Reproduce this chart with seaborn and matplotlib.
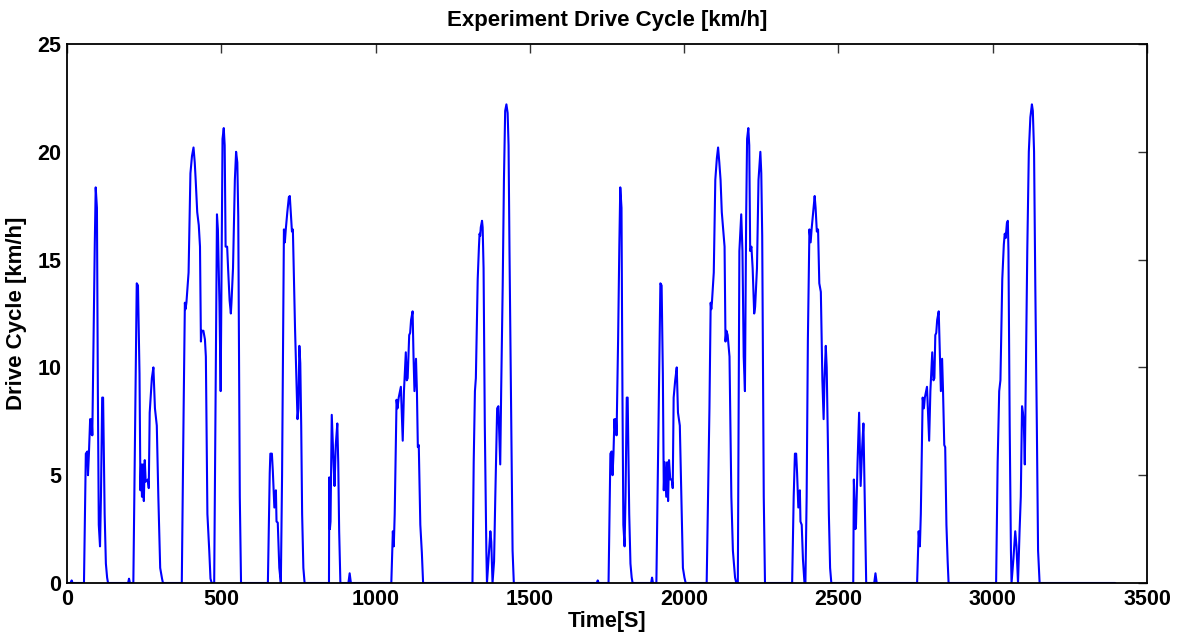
import matplotlib
matplotlib.use("Agg")
import matplotlib.pyplot as plt
import seaborn as sns
import pandas as pd

# ---- data (time in s, speed in km/h) ----
time_s = [
    0, 12, 15, 18, 55, 61, 66, 68, 71, 75, 78, 80, 82, 86, 90, 93, 97, 100, 103, 107,
    110, 114, 117, 122, 126, 130, 133, 198, 201, 204, 215, 226, 230, 235, 238, 240, 243, 246, 249, 252,
    255, 262, 265, 268, 275, 280, 285, 291, 296, 302, 308, 311, 372, 378, 382, 384, 387, 394, 400, 405,
    410, 414, 417, 422, 427, 431, 434, 436, 442, 447, 450, 455, 461, 465, 469, 477, 486, 489, 494, 498,
    504, 508, 511, 514, 519, 522, 527, 531, 533, 538, 544, 548, 552, 555, 560, 564, 651, 657, 659, 664,
    667, 672, 677, 679, 683, 688, 693, 697, 703, 706, 709, 714, 719, 722, 726, 729, 732, 736, 739, 743,
    747, 750, 753, 756, 759, 762, 766, 770, 849, 850, 852, 854, 858, 864, 867, 871, 876, 879, 882, 886,
    912, 916, 920, 1051, 1056, 1059, 1062, 1068, 1071, 1075, 1082, 1088, 1092, 1098, 1101, 1104, 1109, 1112, 1115, 1120,
    1123, 1126, 1131, 1134, 1137, 1140, 1145, 1150, 1154, 1314, 1318, 1322, 1325, 1331, 1335, 1337, 1339, 1341, 1345, 1347,
    1350, 1354, 1359, 1361, 1366, 1372, 1375, 1379, 1384, 1388, 1394, 1398, 1401, 1404, 1407, 1412, 1416, 1420, 1424, 1428,
    1431, 1434, 1440, 1444, 1448, 1717, 1720, 1723, 1755, 1761, 1765, 1768, 1771, 1774, 1777, 1779, 1781, 1786, 1790, 1793,
    1797, 1800, 1803, 1807, 1810, 1814, 1817, 1822, 1826, 1830, 1833, 1893, 1896, 1899, 1910, 1923, 1927, 1931, 1934, 1937,
    1942, 1945, 1948, 1951, 1955, 1960, 1963, 1966, 1971, 1976, 1980, 1986, 1991, 1996, 2001, 2005, 2073, 2082, 2086, 2088,
    2090, 2096, 2101, 2106, 2110, 2114, 2118, 2122, 2127, 2131, 2134, 2137, 2141, 2147, 2153, 2158, 2165, 2169, 2174, 2179,
    2185, 2189, 2193, 2197, 2201, 2204, 2208, 2211, 2214, 2218, 2222, 2227, 2230, 2236, 2241, 2247, 2250, 2253, 2258, 2262,
    2350, 2355, 2359, 2363, 2366, 2370, 2375, 2377, 2381, 2385, 2390, 2393, 2397, 2401, 2406, 2410, 2413, 2418, 2423, 2426,
    2430, 2434, 2438, 2443, 2448, 2452, 2455, 2459, 2462, 2466, 2469, 2473, 2477, 2548, 2550, 2555, 2557, 2562, 2567, 2572,
    2577, 2581, 2585, 2590, 2616, 2620, 2624, 2755, 2760, 2764, 2767, 2773, 2777, 2780, 2787, 2794, 2798, 2804, 2808, 2811,
    2814, 2817, 2820, 2825, 2829, 2832, 2836, 2839, 2843, 2846, 2850, 2854, 2857, 3011, 3016, 3021, 3025, 3031, 3036, 3039,
    3042, 3046, 3049, 3051, 3055, 3059, 3061, 3067, 3073, 3077, 3082, 3087, 3091, 3095, 3098, 3101, 3104, 3108, 3112, 3117,
    3122, 3127, 3130, 3134, 3138, 3143, 3147, 3152, 3397,
]
speed_kmh = [
    0, 0, 0.12, 0, 0, 6.0, 6.1, 5.0, 6.0, 7.6, 6.9, 7.6, 6.85, 11.3, 15.7, 18.35, 17.4, 8.9, 2.7, 1.7,
    4.0, 8.6, 8.6, 3.2, 0.9, 0.25, 0, 0, 0.2, 0, 0, 13.9, 13.8, 9.7, 4.3, 5.5, 4.0, 5.5, 3.8, 5.7,
    4.7, 4.8, 4.4, 7.9, 9.5, 10.0, 8.1, 7.3, 4.0, 0.7, 0.2, 0, 0, 8.1, 13.0, 12.7, 13.0, 14.4, 19.0, 19.8,
    20.2, 19.5, 18.7, 17.2, 16.6, 15.6, 11.2, 11.7, 11.7, 11.3, 10.5, 3.2, 1.5, 0.2, 0, 0, 17.1, 16.4, 13.0, 8.9,
    20.6, 21.1, 20.3, 15.6, 15.6, 14.6, 13.1, 12.5, 13.0, 14.6, 18.7, 20.0, 19.5, 17.0, 4.0, 0, 0, 5.1, 6.0, 6.0,
    5.2, 3.5, 4.3, 2.85, 2.8, 0.7, 0, 5.0, 16.4, 15.8, 16.4, 17.2, 17.9, 17.95, 17.0, 16.3, 16.4, 13.8, 11.8, 9.7,
    7.6, 8.1, 11.0, 10.2, 7.3, 3.2, 0.7, 0, 0, 4.9, 2.5, 2.85, 7.8, 5.5, 4.5, 6.4, 7.4, 5.6, 2.4, 0,
    0, 0.45, 0, 0, 2.4, 1.7, 3.2, 8.5, 8.1, 8.6, 9.1, 6.6, 8.9, 10.7, 9.4, 9.5, 11.5, 11.6, 12.2, 12.6,
    10.5, 8.9, 10.4, 8.9, 6.3, 6.4, 2.7, 1.4, 0, 0, 5.6, 8.9, 9.5, 14.1, 15.6, 16.2, 16.1, 16.5, 16.8, 16.5,
    14.6, 7.3, 1.5, 0, 1.1, 2.4, 1.9, 0, 1.0, 4.0, 8.1, 8.2, 6.8, 5.5, 8.9, 13.8, 18.7, 21.9, 22.2, 21.8,
    20.3, 15.4, 7.3, 1.5, 0, 0, 0.12, 0, 0, 6.0, 6.1, 5.0, 6.0, 7.6, 6.9, 7.6, 6.85, 11.3, 15.7, 18.35,
    17.4, 8.9, 2.7, 1.7, 4.0, 8.6, 8.6, 3.2, 0.9, 0.25, 0, 0, 0.25, 0, 0, 13.9, 13.8, 9.7, 4.3, 5.6,
    4.0, 5.6, 3.8, 5.7, 4.8, 4.8, 4.4, 8.6, 9.4, 10.0, 7.9, 7.3, 4.0, 0.7, 0.25, 0, 0, 8.1, 13.0, 12.7,
    13.0, 14.4, 18.7, 19.7, 20.2, 19.5, 18.7, 17.2, 16.3, 15.6, 11.2, 11.7, 11.5, 10.5, 4.0, 1.5, 0.25, 0, 0, 15.4,
    17.1, 15.4, 10.5, 8.9, 17.0, 20.6, 21.1, 20.3, 15.4, 15.6, 14.6, 12.5, 12.8, 14.6, 18.7, 20.0, 19.0, 16.1, 4.0, 0,
    0, 4.0, 6.0, 6.0, 5.1, 3.5, 4.3, 2.85, 2.7, 1.1, 0, 0, 4.0, 11.3, 16.4, 15.8, 16.4, 17.2, 17.95, 17.4,
    16.3, 16.4, 13.9, 13.5, 9.4, 7.6, 9.5, 11.0, 10.0, 6.4, 3.2, 0.7, 0, 0, 4.8, 2.5, 2.7, 5.6, 7.9, 4.5,
    6.3, 7.4, 4.0, 0, 0, 0.45, 0, 0, 2.4, 1.7, 3.2, 8.6, 8.1, 8.6, 9.1, 6.6, 8.9, 10.7, 9.4, 9.5,
    11.5, 11.6, 12.2, 12.6, 10.5, 8.9, 10.4, 8.9, 6.4, 6.3, 2.7, 1.0, 0, 0, 5.6, 8.9, 9.4, 14.1, 15.7, 16.2,
    16.0, 16.7, 16.8, 15.4, 7.3, 1.5, 0, 1.1, 2.4, 1.7, 0, 2.4, 4.0, 8.2, 7.9, 7.3, 5.5, 10.5, 15.4, 20.0,
    21.6, 22.2, 21.9, 20.0, 13.8, 7.3, 1.5, 0, 0,
]
x_ticks = [0, 500, 1000, 1500, 2000, 2500, 3000, 3500]
y_ticks = [0, 5, 10, 15, 20, 25]
title_text = "Experiment Drive Cycle [km/h]"
x_label = "Time[S]"
y_label = "Drive Cycle [km/h]"

sns.set_style("white")
plt.rcParams["font.family"] = ["Liberation Sans", "DejaVu Sans"]
plt.rcParams["text.color"] = "black"
plt.rcParams["axes.labelcolor"] = "black"
plt.rcParams["xtick.color"] = "black"
plt.rcParams["ytick.color"] = "black"

df = pd.DataFrame({"Time": time_s, "Speed": speed_kmh})

W, H = 1179, 636
fig = plt.figure(figsize=(W / 100, H / 100), dpi=100)
ax = fig.add_axes([67 / W, 1 - 583 / H, 1080 / W, 539 / H])

sns.lineplot(data=df, x="Time", y="Speed", color="#0000FF", linewidth=1.5,
             estimator=None, sort=False, ax=ax)

ax.set_xlim(0, 3500)
ax.set_ylim(0, 25)
ax.set_xticks(x_ticks)
ax.set_yticks(y_ticks)
ax.set_xticklabels([str(v) for v in x_ticks], fontsize=15.5, fontweight="bold", color="black")
ax.set_yticklabels([str(v) for v in y_ticks], fontsize=15.5, fontweight="bold", color="black")
ax.tick_params(direction="in", top=True, right=True, length=6.5, width=1,
               color="#333333", pad=4)
for s in ax.spines.values():
    s.set_visible(True)
    s.set_color("black")
    s.set_linewidth(1.3)

ax.set_xlabel(x_label, fontsize=15.5, fontweight="bold", color="black")
ax.set_ylabel(y_label, fontsize=16, fontweight="bold", color="black")
ax.xaxis.set_label_coords(0.5, -0.052)
ax.yaxis.set_label_coords(-0.037, 0.5)
ax.set_title(title_text, fontsize=16, fontweight="bold", color="black", pad=13)

fig.savefig("out.png", dpi=100, facecolor="white")
